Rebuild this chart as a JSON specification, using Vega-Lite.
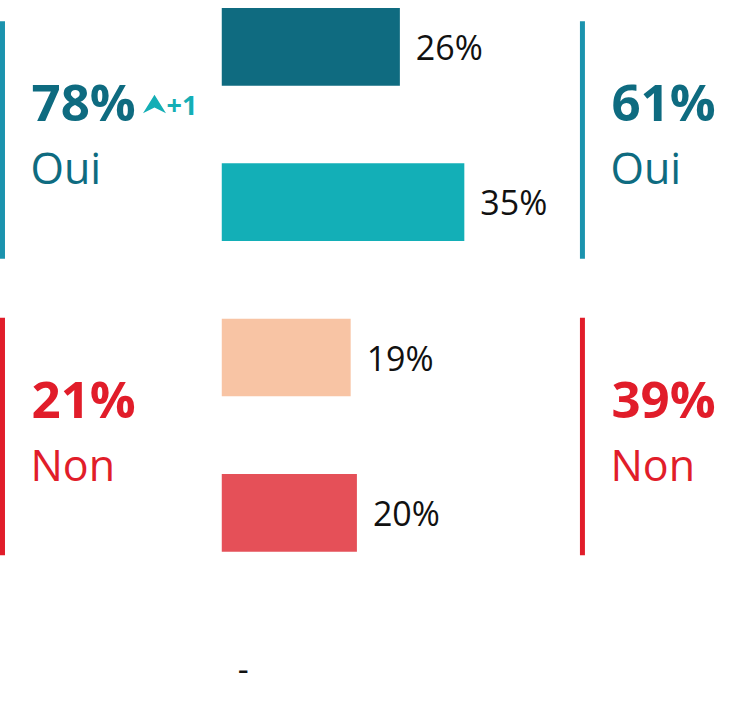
{
  "$schema": "https://vega.github.io/schema/vega-lite/v6.json",
  "width": 745,
  "height": 699,
  "padding": {"left": 0, "top": 8, "right": 0, "bottom": 0},
  "autosize": {"type": "none"},
  "background": "white",
  "config": {"view": {"stroke": null}, "font": "Open Sans"},
  "datasets": {
    "bars": [
      {"cat": "Oui, tout à fait", "group": "Oui", "value": 25.7, "label": "26%"},
      {"cat": "Oui, plutôt", "group": "Oui", "value": 35.0, "label": "35%"},
      {"cat": "Non, plutôt pas", "group": "Non", "value": 18.6, "label": "19%"},
      {"cat": "Non, pas du tout", "group": "Non", "value": 19.5, "label": "20%"},
      {"cat": "Sans réponse", "group": "NSP", "value": 0, "label": "-"}
    ],
    "summary": [
      {"panel": "Gauche", "group": "Oui", "pct": "78%", "change": "+1"},
      {"panel": "Gauche", "group": "Non", "pct": "21%", "change": null},
      {"panel": "Droite", "group": "Oui", "pct": "61%", "change": null},
      {"panel": "Droite", "group": "Non", "pct": "39%", "change": null}
    ]
  },
  "layer": [
    {
      "data": {"name": "bars"},
      "encoding": {
        "y": {"field": "cat", "type": "nominal", "sort": null,
              "scale": {"paddingInner": 0.5, "paddingOuter": 0}, "axis": null}
      },
      "layer": [
        {
          "mark": {"type": "bar"},
          "encoding": {
            "x": {"field": "value", "type": "quantitative",
                  "scale": {"domain": [-32, 75.5], "nice": false, "zero": false}, "axis": null},
            "x2": {"datum": 0},
            "color": {"field": "cat", "type": "nominal", "legend": null,
                      "scale": {"domain": ["Oui, tout à fait", "Oui, plutôt", "Non, plutôt pas", "Non, pas du tout", "Sans réponse"],
                                "range": ["#0f6b80", "#13afb7", "#f8c4a4", "#e55058", "#cccccc"]}}
          }
        },
        {
          "mark": {"type": "text", "align": "left", "baseline": "middle", "dx": 16, "dy": 3, "fontSize": 34, "color": "#111111"},
          "encoding": {
            "x": {"field": "value", "type": "quantitative"},
            "text": {"field": "label"}
          }
        }
      ]
    },
    {
      "data": {"name": "summary"},
      "encoding": {
        "x": {"field": "panel", "type": "nominal", "sort": ["Gauche", "Droite"],
              "scale": {"type": "band", "paddingInner": 0.9914, "paddingOuter": 0.138, "align": 0}, "axis": null},
        "y": {"field": "group", "type": "nominal", "sort": ["Oui", "Non"],
              "scale": {"paddingInner": 0.199, "paddingOuter": 0.278, "align": 0.08}, "axis": null}
      },
      "layer": [
        {
          "mark": {"type": "rect"},
          "encoding": {
            "color": {"condition": {"test": "datum.group === 'Oui'", "value": "#1b93ae"}, "value": "#e11d2a"}
          }
        },
        {
          "mark": {"type": "text", "align": "left", "baseline": "middle", "dx": 29, "dy": -34, "fontSize": 51, "fontWeight": "bold"},
          "encoding": {
            "text": {"field": "pct"},
            "color": {"condition": {"test": "datum.group === 'Oui'", "value": "#0e6b80"}, "value": "#e11d2a"}
          }
        },
        {
          "mark": {"type": "text", "align": "left", "baseline": "middle", "dx": 28, "dy": 31, "fontSize": 43},
          "encoding": {
            "text": {"field": "group"},
            "color": {"condition": {"test": "datum.group === 'Oui'", "value": "#0e6b80"}, "value": "#e11d2a"}
          }
        },
        {
          "transform": [{"filter": "isValid(datum.change)"}],
          "mark": {"type": "point", "filled": true, "opacity": 1, "color": "#14aeb5", "size": 529,
                   "shape": "M0,-0.8 L1,0.8 L0,0.3 L-1,0.8 Z", "xOffset": 152, "yOffset": -36}
        },
        {
          "transform": [{"filter": "isValid(datum.change)"}],
          "mark": {"type": "text", "align": "left", "baseline": "middle", "dx": 164, "dy": -33, "fontSize": 27, "fontWeight": "bold", "color": "#14aeb5"},
          "encoding": {"text": {"field": "change"}}
        }
      ]
    }
  ],
  "resolve": {"scale": {"x": "independent", "y": "independent", "color": "independent"}}
}
